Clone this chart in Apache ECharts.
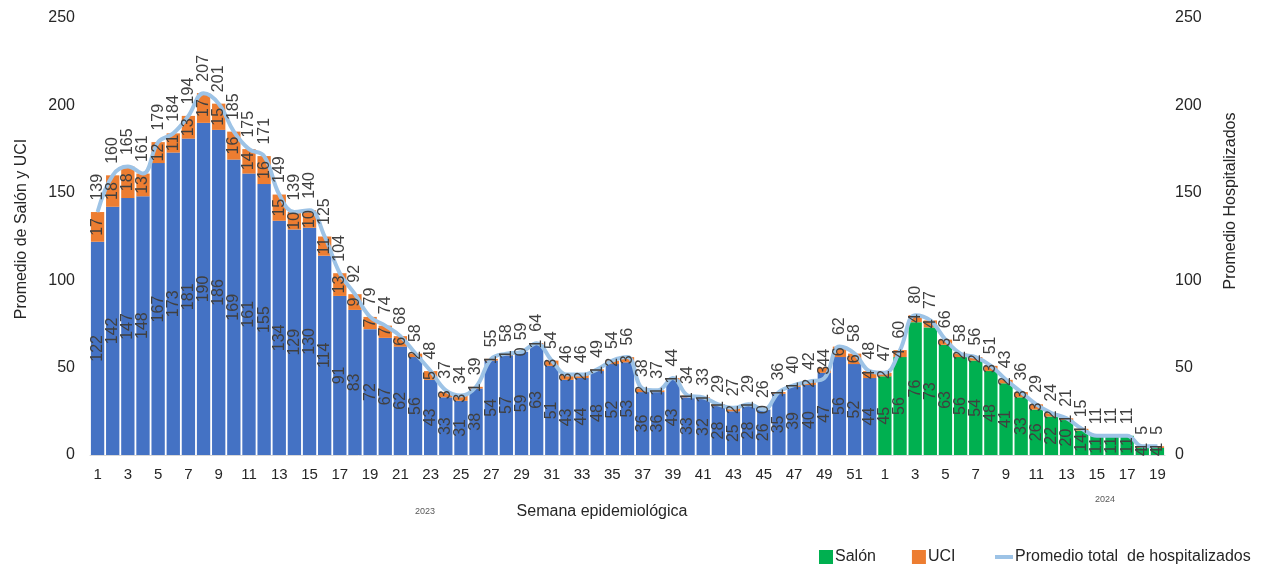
<!DOCTYPE html>
<html>
<head>
<meta charset="utf-8">
<script src="https://cdn.jsdelivr.net/npm/echarts@6/dist/echarts.min.js"></script>
<style>
  html, body { margin: 0; padding: 0; background: #fff; }
  #chart { width: 1266px; height: 565px; }
</style>
</head>
<body>
<div id="chart"></div>
<script>
  // semanas epidemiológicas 2023 (1-52) y 2024 (1-19)
  const weeks2023 = ['1','2','3','4','5','6','7','8','9','10','11','12','13','14','15','16','17','18','19','20',
    '21','22','23','24','25','26','27','28','29','30','31','32','33','34','35','36','37','38','39','40',
    '41','42','43','44','45','46','47','48','49','50','51','52']
  const weeks2024 = ['1','2','3','4','5','6','7','8','9','10','11','12','13','14','15','16','17','18','19']

  const salon2023 = [122,142,147,148,167,173,181,190,186,169,161,155,134,129,130,114,91,83,72,67,
    62,56,43,33,31,38,54,57,59,63,51,43,44,48,52,53,36,36,43,33,
    32,28,25,28,26,35,39,40,47,56,52,44]
  const uci2023 = [17,18,18,13,12,11,13,17,15,16,14,16,15,10,10,11,13,9,7,7,
    6,2,5,3,3,1,1,1,0,1,3,3,2,1,2,3,2,1,1,1,
    1,1,2,1,0,1,1,2,3,6,6,4]
  const total2023 = [139,160,165,161,179,184,194,207,201,185,175,171,149,139,140,125,104,92,79,74,
    68,58,48,37,34,39,55,58,59,64,54,46,46,49,54,56,38,37,44,34,
    33,29,27,29,26,36,40,42,44,62,58,48]

  const salon2024 = [45,56,76,73,63,56,54,48,41,33,26,22,20,14,11,11,11,4,4]
  const uci2024 = [2,4,4,4,3,2,2,3,2,3,3,2,1,1,0,0,0,1,1]
  const total2024 = [47,60,80,77,66,58,56,51,43,36,29,24,21,15,11,11,11,5,5]

  const yTicks = [0, 50, 100, 150, 200, 250]

  const BLUE = '#4472C4'
  const GREEN = '#00B050'
  const ORANGE = '#ED7D31'
  const LINE = '#9DC3E6'
  const TXT = '#404040'
  const FONT = '"Liberation Sans", Arial, sans-serif'

  const categories = weeks2023.map(w => '2023-' + w).concat(weeks2024.map(w => '2024-' + w))
  const salonValues = salon2023.concat(salon2024)
  const salonData = salon2023.map(v => ({ value: v, itemStyle: { color: BLUE } })).concat(salon2024)
  const uciData = uci2023.concat(uci2024)
  // en 2024 las etiquetas de UCI en cero no se ven
  const uciLabelData = uci2023.concat(uci2024.map(v => (v === 0 ? { value: v, label: { show: false } } : v)))
  const totalData = total2023.concat(total2024)

  const myChart = echarts.init(document.getElementById('chart'))

  const yAxisBase = {
    type: 'value',
    min: yTicks[0],
    max: yTicks[yTicks.length - 1],
    interval: 50,
    axisLine: { show: false },
    axisTick: { show: false },
    splitLine: { show: false },
    axisLabel: { color: '#262626', fontSize: 16, fontFamily: FONT },
  }

  const barLabel = {
    show: true, position: 'inside', rotate: 90,
    color: TXT, fontSize: 16, fontFamily: FONT,
  }

  const option = {
    animation: false,
    textStyle: { fontFamily: FONT },
    grid: { left: 90, right: 101, top: 18, bottom: 110 },
    legend: [
      {
        data: ['Salón', 'UCI'],
        left: 814,
        top: 544,
        itemWidth: 14,
        itemHeight: 14,
        itemGap: 36,
        icon: 'rect',
        textStyle: { color: '#262626', fontSize: 16, fontFamily: FONT, padding: [0, 0, 0, -3] },
      },
      {
        data: ['Promedio total  de hospitalizados'],
        left: 990,
        top: 544,
        itemWidth: 18,
        itemHeight: 4,
        icon: 'rect',
        textStyle: { color: '#262626', fontSize: 16, fontFamily: FONT, padding: [0, 0, 0, -3] },
      },
    ],
    xAxis: {
      type: 'category',
      data: categories,
      axisLine: { show: true, lineStyle: { color: '#D9D9D9', width: 1 } },
      axisTick: { show: false },
      axisLabel: {
        interval: 1,
        margin: 12,
        color: '#262626',
        fontSize: 15,
        fontFamily: FONT,
        formatter: v => v.split('-')[1],
      },
    },
    yAxis: [
      Object.assign({}, yAxisBase, { position: 'left', axisLabel: Object.assign({}, yAxisBase.axisLabel, { margin: 15 }) }),
      Object.assign({}, yAxisBase, { position: 'right', axisLabel: Object.assign({}, yAxisBase.axisLabel, { margin: 10 }) }),
    ],
    graphic: [
      {
        type: 'text', x: 22, y: 229, rotation: Math.PI / 2,
        style: { text: 'Promedio de Salón y UCI', fill: '#262626', font: '16px ' + FONT, align: 'center', verticalAlign: 'middle' },
      },
      {
        type: 'text', x: 1231, y: 201, rotation: Math.PI / 2,
        style: { text: 'Promedio Hospitalizados', fill: '#262626', font: '16px ' + FONT, align: 'center', verticalAlign: 'middle' },
      },
      {
        type: 'text', x: 602, y: 512,
        style: { text: 'Semana epidemiológica', fill: '#262626', font: '16px ' + FONT, align: 'center', verticalAlign: 'middle' },
      },
      {
        type: 'text', x: 425, y: 512,
        style: { text: '2023', fill: '#595959', font: '9px ' + FONT, align: 'center', verticalAlign: 'middle' },
      },
      {
        type: 'text', x: 1105, y: 500,
        style: { text: '2024', fill: '#595959', font: '9px ' + FONT, align: 'center', verticalAlign: 'middle' },
      },
    ],
    series: [
      {
        name: 'Salón',
        type: 'bar',
        stack: 'hosp',
        barCategoryGap: '12%',
        barGap: '-100%',
        z: 2,
        itemStyle: { color: GREEN },
        data: salonData,
      },
      {
        name: 'UCI',
        type: 'bar',
        stack: 'hosp',
        barCategoryGap: '12%',
        barGap: '-100%',
        z: 2,
        itemStyle: { color: ORANGE },
        data: uciData,
      },
      {
        name: 'Promedio total  de hospitalizados',
        type: 'line',
        yAxisIndex: 1,
        smooth: 0.4,
        symbol: 'circle',
        symbolSize: 1,
        showSymbol: true,
        z: 5,
        lineStyle: { color: LINE, width: 4 },
        itemStyle: { color: LINE },
        label: {
          show: true, position: 'top', rotate: 90, distance: 11,
          align: 'left', verticalAlign: 'middle',
          color: TXT, fontSize: 16, fontFamily: FONT,
        },
        data: totalData,
      },
      // capas transparentes solo para que las etiquetas queden sobre la línea
      {
        name: 'lbl-salon',
        type: 'bar',
        stack: 'lbl',
        barCategoryGap: '12%',
        barGap: '-100%',
        z: 8,
        silent: true,
        itemStyle: { color: 'rgba(0,0,0,0)' },
        label: barLabel,
        data: salonValues,
      },
      {
        name: 'lbl-uci',
        type: 'bar',
        stack: 'lbl',
        barCategoryGap: '12%',
        barGap: '-100%',
        z: 8,
        silent: true,
        itemStyle: { color: 'rgba(0,0,0,0)' },
        label: barLabel,
        data: uciLabelData,
      },
    ],
  }

  option && myChart.setOption(option)
</script>
</body>
</html>
